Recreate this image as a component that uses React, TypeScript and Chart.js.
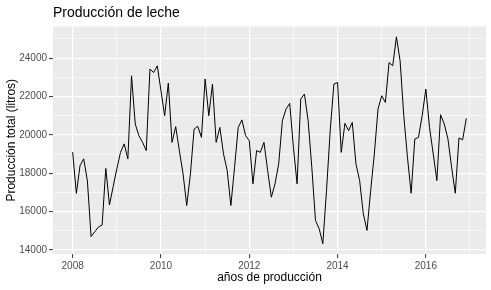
import React, { useEffect, useRef } from "react";
import { Chart, registerables } from "chart.js";

Chart.register(...registerables);

const titulo = "Producción de leche";
const tituloX = "años de producción";
const tituloY = "Producción total (litros)";

const anioInicio = 2008;
const frecuencia = 12;

const prod2008 = [19100, 16950, 18400, 18750, 17600, 14700, 14950, 15200, 15300, 18250, 16350, 17300];
const prod2009 = [18230, 19090, 19530, 18750, 23080, 20570, 19960, 19610, 19180, 23430, 23250, 23600];
const prod2010 = [22300, 21000, 22700, 19610, 20430, 19180, 17970, 16320, 17950, 20300, 20450, 19870];
const prod2011 = [22910, 21000, 22650, 19610, 20390, 19010, 18140, 16320, 18310, 20390, 20780, 19960];
const prod2012 = [19700, 17450, 19180, 19090, 19610, 18140, 16750, 17450, 18490, 20740, 21350, 21640];
const prod2013 = [19350, 17450, 21870, 22130, 20740, 18310, 15540, 15110, 14330, 17100, 20220, 22650];
const prod2014 = [22730, 19090, 20600, 20220, 20650, 18490, 17620, 15890, 15020, 17100, 19010, 21350];
const prod2015 = [22040, 21690, 23770, 23600, 25110, 23860, 21000, 18830, 16960, 19790, 19870, 21000];
const prod2016 = [22390, 20390, 19010, 17620, 21050, 20570, 19790, 18310, 16960, 19840, 19740, 20860];

const produccion = [
  ...prod2008, ...prod2009, ...prod2010, ...prod2011, ...prod2012,
  ...prod2013, ...prod2014, ...prod2015, ...prod2016,
];

const xTicks = [2008, 2009, 2010, 2011, 2012, 2013, 2014, 2015, 2016, 2017];
const yTicks = [14000, 15000, 16000, 17000, 18000, 19000, 20000, 21000, 22000, 23000, 24000, 25000];

const FONT = "'Liberation Sans', Arial, 'DejaVu Sans', sans-serif";

const panelBg = {
  id: "panelBg",
  beforeDraw(chart: any) {
    const { ctx, chartArea } = chart;
    ctx.save();
    ctx.fillStyle = "#EBEBEB";
    ctx.fillRect(chartArea.left, chartArea.top, chartArea.right - chartArea.left, chartArea.bottom - chartArea.top);
    ctx.restore();
  },
};

const panelTitle = {
  id: "panelTitle",
  afterDraw(chart: any) {
    const { ctx, chartArea } = chart;
    ctx.save();
    ctx.fillStyle = "#000000";
    ctx.font = `14px ${FONT}`;
    ctx.textAlign = "left";
    ctx.textBaseline = "alphabetic";
    ctx.fillText(titulo, chartArea.left, 17);
    ctx.restore();
  },
};

export default function App() {
  const ref = useRef<HTMLCanvasElement>(null);

  useEffect(() => {
    if (!ref.current) return;
    const puntos = produccion.map((v, i) => ({ x: anioInicio + i / frecuencia, y: v }));
    const xs = puntos.map((p) => p.x);
    const ys = puntos.map((p) => p.y);
    const xMin = Math.min(...xs), xMax = Math.max(...xs);
    const yMin = Math.min(...ys), yMax = Math.max(...ys);
    const xPad = (xMax - xMin) * 0.05;
    const yPad = (yMax - yMin) * 0.05;

    const chart = new Chart(ref.current, {
      type: "line",
      data: {
        datasets: [
          {
            data: puntos,
            borderColor: "#000000",
            borderWidth: 1,
            pointRadius: 0,
            tension: 0,
            fill: false,
          },
        ],
      },
      options: {
        animation: false,
        responsive: false,
        layout: { padding: { left: 0, right: 5, top: 26.5, bottom: 0 } },
        plugins: {
          legend: { display: false },
          tooltip: { enabled: false },
          title: { display: false },
        },
        scales: {
          x: {
            type: "linear",
            min: xMin - xPad,
            max: xMax + xPad,
            afterBuildTicks: (scale: any) => {
              scale.ticks = xTicks.map((v) => ({ value: v }));
            },
            afterFit: (scale: any) => {
              scale.height = 36;
            },
            border: { display: false },
            grid: {
              color: "#FFFFFF",
              lineWidth: (c: any) => (c.tick && c.tick.value % 2 === 0 ? 1.2 : 0.6),
              tickColor: (c: any) => (c.tick && c.tick.value % 2 === 0 ? "#333333" : "rgba(0,0,0,0)"),
              tickWidth: 1,
              tickLength: 4,
            },
            ticks: {
              autoSkip: false,
              maxRotation: 0,
              padding: 2,
              color: "#4D4D4D",
              font: { family: FONT, size: 10 },
              callback: (v: any) => (Number(v) % 2 === 0 ? String(v) : ""),
            },
            title: {
              display: true,
              text: tituloX,
              color: "#000000",
              font: { family: FONT, size: 12 },
              padding: { top: 0, bottom: 5.5 },
            },
          },
          y: {
            type: "linear",
            min: yMin - yPad,
            max: yMax + yPad,
            afterBuildTicks: (scale: any) => {
              scale.ticks = yTicks.map((v) => ({ value: v }));
            },
            afterFit: (scale: any) => {
              scale.width = 53;
            },
            border: { display: false },
            grid: {
              color: "#FFFFFF",
              lineWidth: (c: any) => (c.tick && c.tick.value % 2000 === 0 ? 1.2 : 0.6),
              tickColor: (c: any) => (c.tick && c.tick.value % 2000 === 0 ? "#333333" : "rgba(0,0,0,0)"),
              tickWidth: 1,
              tickLength: 4,
            },
            ticks: {
              autoSkip: false,
              padding: 2,
              color: "#4D4D4D",
              font: { family: FONT, size: 10 },
              callback: (v: any) => (Number(v) % 2000 === 0 ? String(v) : ""),
            },
            title: {
              display: true,
              text: tituloY,
              color: "#000000",
              font: { family: FONT, size: 12 },
              padding: { top: 4.5, bottom: 0 },
            },
          },
        },
      },
      plugins: [panelBg, panelTitle],
    });
    return () => chart.destroy();
  }, []);

  return (
    <div style={{ position: "fixed", left: 0, top: 0, width: 491, height: 290, background: "#FFFFFF" }}>
      <canvas ref={ref} width={491} height={290} style={{ display: "block" }} />
    </div>
  );
}
